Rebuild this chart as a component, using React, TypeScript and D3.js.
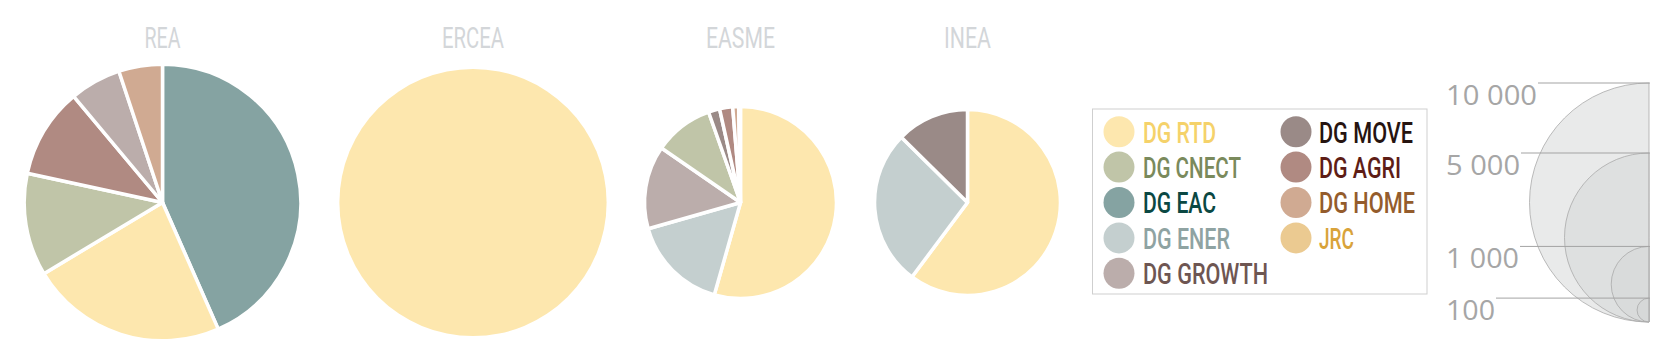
import React from "react";
import * as d3 from "d3";

// ---- data ----
const dgNames = ["DG RTD", "DG CNECT", "DG EAC", "DG ENER", "DG GROWTH", "DG MOVE", "DG AGRI", "DG HOME", "JRC"];
const dgFill = ["#fde7ae", "#c0c5a8", "#85a3a2", "#c4cfcf", "#bbadab", "#9a8a87", "#b08a82", "#d0aa92", "#ebca91"];
const dgText = ["#f5d26a", "#7a8a5c", "#0b4843", "#8fa3a2", "#6e5652", "#261410", "#5e1d16", "#945c2c", "#d9a33a"];

const agencies = ["REA", "ERCEA", "EASME", "INEA"];
const agencyTotals = [13400, 12500, 6450, 6050];

const reaDGs = ["DG EAC", "DG RTD", "DG CNECT", "DG AGRI", "DG GROWTH", "DG HOME"];
const reaValues = [43.4, 23.0, 12.0, 10.5, 6.0, 5.1];
const erceaDGs = ["DG RTD"];
const erceaValues = [100];
const easmeDGs = ["DG RTD", "DG ENER", "DG GROWTH", "DG CNECT", "DG MOVE", "DG AGRI", "DG HOME", "JRC"];
const easmeValues = [54.4, 16.2, 14.0, 10.0, 1.9, 2.2, 1.0, 0.3];
const ineaDGs = ["DG RTD", "DG ENER", "DG MOVE"];
const ineaValues = [60.2, 27.2, 12.6];

const sizeTicks = [10000, 5000, 1000, 100];
const sizeTickLabels = ["10 000", "5 000", "1 000", "100"];

// ---- layout ----
const W = 1659;
const H = 364;
const pieCx = [162.5, 473, 740.5, 967.5];
const pieCy = 202.5;
const titleW = [36, 62, 69, 47];
const legendTextW = [73, 98, 73, 87, 125, 94, 82, 96, 35];
const tickTextW = [91, 74, 73, 49];
const condensed = "Roboto, 'Liberation Sans', sans-serif";

export default function App() {
  const rScale = d3.scaleSqrt().domain([0, 10000]).range([0, 119.5]);
  const pieGen = d3.pie<number>().sort(null).value((d) => d);
  const pieSets = [
    { dgs: reaDGs, vals: reaValues },
    { dgs: erceaDGs, vals: erceaValues },
    { dgs: easmeDGs, vals: easmeValues },
    { dgs: ineaDGs, vals: ineaValues },
  ];
  const colorOf = d3.scaleOrdinal<string, string>().domain(dgNames).range(dgFill);

  // size legend
  const scx = 1649;
  const sBottom = 322;
  const halfArc = (r: number) =>
    d3.arc()({ innerRadius: 0, outerRadius: r, startAngle: Math.PI, endAngle: 2 * Math.PI } as any) as string;

  // legend
  const legX = 1092.5;
  const legY = 109;
  const legW = 334.5;
  const legH = 185;
  const rowY = d3.scaleLinear().domain([0, 1]).range([131.7, 167.1]);
  const colSwatchX = [1119, 1296];
  const colTextX = [1143, 1319];

  return (
    <svg width={W} height={H} style={{ position: "absolute", left: 0, top: 0, background: "#fff" }}>
      {agencies.map((name, i) => {
        const r = rScale(agencyTotals[i]);
        const arcGen = d3.arc<d3.PieArcDatum<number>>().innerRadius(0).outerRadius(r);
        const arcs = pieGen(pieSets[i].vals);
        return (
          <g key={name}>
            <text
              x={pieCx[i]}
              y={47.5}
              textAnchor="middle"
              fontFamily={condensed}
              fontSize={29}
              fill="#d3d6d9"
              textLength={titleW[i]}
              lengthAdjust="spacingAndGlyphs"
            >
              {name}
            </text>
            <g transform={`translate(${pieCx[i]},${pieCy})`}>
              {arcs.map((a, j) => (
                <path
                  key={j}
                  d={arcGen(a) as string}
                  fill={colorOf(pieSets[i].dgs[j])}
                  stroke={arcs.length > 1 ? "#fff" : "none"}
                  strokeWidth={3.5}
                  strokeLinejoin="round"
                />
              ))}
            </g>
          </g>
        );
      })}

      {/* legend box */}
      <rect x={legX} y={legY} width={legW} height={legH} fill="#fff" stroke="#cfcfcf" strokeWidth={1} />
      {dgNames.map((dg, i) => {
        const col = i < 5 ? 0 : 1;
        const row = i < 5 ? i : i - 5;
        const cy = rowY(row);
        return (
          <g key={dg}>
            <circle cx={colSwatchX[col]} cy={cy} r={15.5} fill={dgFill[i]} />
            <text
              x={colTextX[col]}
              y={cy + 10.8}
              fontFamily={condensed}
              fontSize={29.5}
              fontWeight={500}
              fill={dgText[i]}
              textLength={legendTextW[i]}
              lengthAdjust="spacingAndGlyphs"
            >
              {dg}
            </text>
          </g>
        );
      })}

      {/* size legend */}
      <g>
        {sizeTicks.map((v) => (
          <path
            key={"c" + v}
            d={halfArc(rScale(v))}
            transform={`translate(${scx},${sBottom - rScale(v)})`}
            fill="#d3d5d6"
            fillOpacity={0.5}
            stroke="#a9a9a9"
            strokeWidth={0.8}
          />
        ))}
        {sizeTicks.map((v, i) => {
          const ly = sBottom - 2 * rScale(v);
          const lx = 1446;
          return (
            <g key={"t" + v}>
              <line x1={lx + tickTextW[i] + 1} x2={scx + 1} y1={ly} y2={ly} stroke="#a3a3a3" strokeWidth={1} />
              <text
                x={lx}
                y={ly + 21.7}
                fontFamily="'Open Sans', sans-serif"
                fontSize={28}
                fill="#a6a6a6"
                textLength={tickTextW[i]}
                lengthAdjust="spacingAndGlyphs"
              >
                {sizeTickLabels[i]}
              </text>
            </g>
          );
        })}
      </g>
    </svg>
  );
}
